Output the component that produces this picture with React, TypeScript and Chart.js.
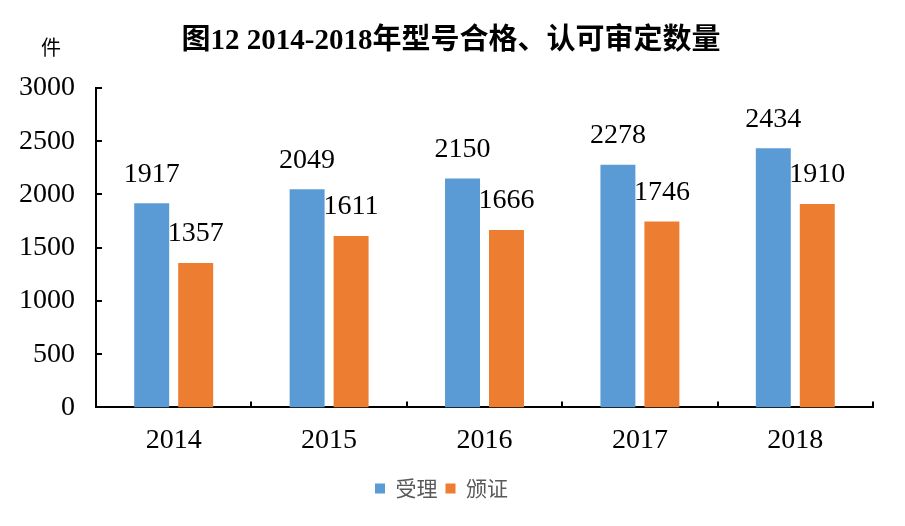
import React, { useEffect, useRef } from "react";
import { Chart, registerables } from "chart.js";

Chart.register(...registerables);

const years = ["2014", "2015", "2016", "2017", "2018"];
const accepted = [1917, 2049, 2150, 2278, 2434];
const certified = [1357, 1611, 1666, 1746, 1910];
const seriesNames = ["受理", "颁证"];
const yTicks = { min: 0, max: 3000, step: 500 };
const titleText = "图12 2014-2018年型号合格、认可审定数量";
const unitText = "件";

const SERIF = '"Liberation Serif", "Noto Sans CJK SC", serif';

const overlay = {
  id: "overlay",
  afterDatasetsDraw(chart: any) {
    const { ctx, chartArea, scales } = chart;
    const x = scales.x;
    const y = scales.y;
    ctx.save();
    // inner ticks
    ctx.strokeStyle = "#000";
    ctx.lineWidth = 2;
    ctx.beginPath();
    y.ticks.forEach((t: any, i: number) => {
      const py = Math.round(y.getPixelForTick(i));
      if (t.value === 0) return;
      ctx.moveTo(chartArea.left, py);
      ctx.lineTo(chartArea.left + 6, py);
    });
    const n = x.ticks.length;
    for (let i = 0; i < n; i++) {
      const cw = (chartArea.right - chartArea.left) / n;
      const px = Math.round(chartArea.left + cw * (i + 1));
      ctx.moveTo(px, chartArea.bottom);
      ctx.lineTo(px, chartArea.bottom - 6);
    }
    ctx.stroke();
    // data labels
    ctx.fillStyle = "#000";
    ctx.font = `28px ${SERIF}`;
    ctx.textAlign = "center";
    ctx.textBaseline = "bottom";
    chart.data.datasets.forEach((ds: any, di: number) => {
      const meta = chart.getDatasetMeta(di);
      meta.data.forEach((bar: any, i: number) => {
        ctx.fillText(String(ds.data[i]), bar.x, bar.y - 15);
      });
    });
    // title
    ctx.font = `bold 29px ${SERIF}`;
    ctx.textBaseline = "middle";
    ctx.fillText(titleText, 451, 42);
    // unit
    ctx.font = `20px ${SERIF}`;
    ctx.fillText(unitText, 51, 50);
    ctx.restore();
  },
};

export default function App() {
  const ref = useRef<HTMLCanvasElement>(null);
  useEffect(() => {
    document.body.style.margin = "0";
    const chart = new Chart(ref.current!, {
      type: "bar",
      data: {
        labels: years,
        datasets: [
          {
            label: seriesNames[0],
            data: accepted,
            backgroundColor: "#5B9BD5",
            categoryPercentage: 0.566,
            barPercentage: 0.795,
          },
          {
            label: seriesNames[1],
            data: certified,
            backgroundColor: "#ED7D31",
            categoryPercentage: 0.566,
            barPercentage: 0.795,
          },
        ],
      },
      options: {
        animation: false,
        responsive: false,
        layout: { padding: { top: 88, right: 32, left: 10, bottom: 17 } },
        plugins: {
          title: { display: false },
          tooltip: { enabled: false },
          legend: {
            position: "bottom",
            labels: {
              boxWidth: 10,
              boxHeight: 10,
              padding: 8,
              color: "#595959",
              font: { family: '"Noto Sans CJK SC", sans-serif', size: 21 },
            },
          },
        },
        scales: {
          x: {
            afterFit: (s: any) => {
              s.height += 5;
            },
            grid: { display: false },
            border: { display: true, color: "#000", width: 2 },
            ticks: {
              color: "#000",
              padding: 8,
              font: { family: SERIF, size: 28 },
            },
          },
          y: {
            min: yTicks.min,
            max: yTicks.max,
            afterFit: (s: any) => {
              s.width = 86;
            },
            grid: { display: false },
            border: { display: true, color: "#000", width: 2 },
            ticks: {
              stepSize: yTicks.step,
              color: "#000",
              padding: 13,
              font: { family: SERIF, size: 28 },
              callback: (v: any) => String(v),
            },
          },
        },
      },
      plugins: [overlay],
    });
    return () => chart.destroy();
  }, []);
  return <canvas ref={ref} width={905} height={526} style={{ display: "block" }} />;
}
